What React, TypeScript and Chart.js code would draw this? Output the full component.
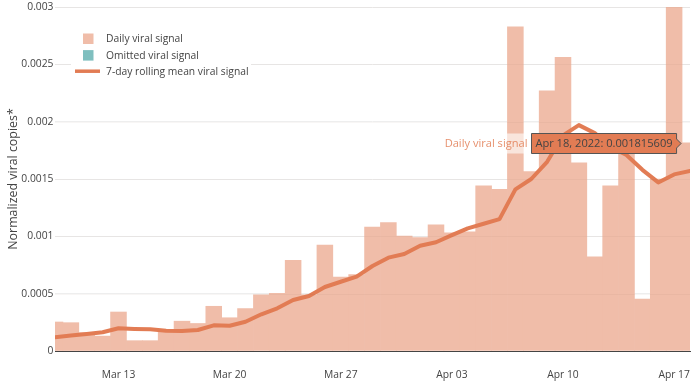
import React, { useEffect, useRef } from 'react';
import { Chart, registerables } from 'chart.js';

Chart.register(...registerables);

const categories = [
  'Mar 09', 'Mar 10', 'Mar 11', 'Mar 12', 'Mar 13', 'Mar 14', 'Mar 15', 'Mar 16', 'Mar 17', 'Mar 18',
  'Mar 19', 'Mar 20', 'Mar 21', 'Mar 22', 'Mar 23', 'Mar 24', 'Mar 25', 'Mar 26', 'Mar 27', 'Mar 28',
  'Mar 29', 'Mar 30', 'Mar 31', 'Apr 01', 'Apr 02', 'Apr 03', 'Apr 04', 'Apr 05', 'Apr 06', 'Apr 07',
  'Apr 08', 'Apr 09', 'Apr 10', 'Apr 11', 'Apr 12', 'Apr 13', 'Apr 14', 'Apr 15', 'Apr 16', 'Apr 17',
  'Apr 18',
];

const dailySignal = [
  0.000253, 0.000247, 0.00016, 0.00013, 0.00034, 0.00009, 0.00009, 0.00018, 0.00026, 0.00024,
  0.00039, 0.00029, 0.00037, 0.00049, 0.000503, 0.00079, 0.00049, 0.000924, 0.000645, 0.000666,
  0.00108, 0.00112, 0.001003, 0.00099, 0.0011, 0.00103, 0.00104, 0.00144, 0.00141, 0.002828,
  0.001564, 0.00227, 0.00256, 0.00164, 0.000822, 0.00144, 0.00173, 0.000453, 0.0015, 0.003,
  0.001815609,
];

const omittedSignal: number[] = [];

const rollingMean = [
  0.000119, 0.000135, 0.000148, 0.000163, 0.000198, 0.000192, 0.000189, 0.000177, 0.000175, 0.000183,
  0.000224, 0.00022, 0.000255, 0.00032, 0.000372, 0.000445, 0.00048, 0.000558, 0.000604, 0.000648,
  0.000741, 0.000814, 0.000846, 0.000918, 0.000948, 0.00101, 0.00107, 0.00111, 0.00115, 0.00141,
  0.0015, 0.00165, 0.00188, 0.00197, 0.0019, 0.00178, 0.00171, 0.00158, 0.00147, 0.00154,
  0.00157,
];

const tickLabels = ['Mar 13', 'Mar 20', 'Mar 27', 'Apr 03', 'Apr 10', 'Apr 17'];

const hoverIndex = 40;
const hoverDate = 'Apr 18, 2022';

const FONT = "'Open Sans', sans-serif";
const TEXT = '#444';
const ORANGE = 'rgb(226,124,84)';
const BAR_FILL = '#f0bda9';
const TEAL_FILL = 'rgba(0,128,128,0.5)';

const overlayPlugin = {
  id: 'overlay',
  afterDatasetsDraw(chart: any) {
    // faint grid lines showing through the translucent-looking bars
    const ctx: CanvasRenderingContext2D = chart.ctx;
    const area = chart.chartArea;
    const ys = chart.scales.y;
    ctx.save();
    ctx.beginPath();
    ctx.rect(area.left, area.top, area.right - area.left, area.bottom - area.top);
    ctx.clip();
    ctx.strokeStyle = 'rgba(120,70,50,0.05)';
    ctx.lineWidth = 1;
    ys.ticks.forEach((t: any) => {
      if (t.value === 0) return;
      const y = Math.round(ys.getPixelForValue(t.value)) + 0.5;
      ctx.beginPath();
      ctx.moveTo(area.left, y);
      ctx.lineTo(area.right, y);
      ctx.stroke();
    });
    ctx.restore();
  },
  afterDraw(chart: any) {
    const ctx: CanvasRenderingContext2D = chart.ctx;
    const area = chart.chartArea;
    ctx.save();

    // Legend (top-left inside plot)
    const lx = area.left + 16;
    const ly = area.top + 21;
    ctx.fillStyle = '#fff';
    ctx.fillRect(lx, ly, 180, 54);
    const items = [
      { ds: chart.data.datasets[1], kind: 'box', color: BAR_FILL },
      { ds: chart.data.datasets[2], kind: 'box', color: TEAL_FILL },
      { ds: chart.data.datasets[0], kind: 'line', color: ORANGE },
    ];
    ctx.font = `10.3px ${FONT}`;
    ctx.textBaseline = 'middle';
    ctx.textAlign = 'left';
    items.forEach((it, i) => {
      const cy = ly + 10.5 + i * 16.6;
      if (it.kind === 'box') {
        ctx.fillStyle = it.color;
        ctx.fillRect(lx + 12, cy - 5, 10.5, 10.5);
      } else {
        ctx.strokeStyle = it.color;
        ctx.lineWidth = 3.5;
        ctx.beginPath();
        ctx.moveTo(lx + 4, cy - 0.5);
        ctx.lineTo(lx + 29, cy - 0.5);
        ctx.stroke();
      }
      ctx.fillStyle = TEXT;
      ctx.fillText(it.ds.label, lx + 35, cy + 0.5);
    });

    // Hover label on the last daily bar
    const meta = chart.getDatasetMeta(1);
    const el: any = meta.data[hoverIndex];
    if (el) {
      const barLeft = el.x - el.width / 2;
      const y = Math.round(el.y) + 0.5;
      const tipX = barLeft - 1;
      const bx1 = tipX - 4.5;
      ctx.font = `11.1px ${FONT}`;
      const text = `${hoverDate}: ${dailySignal[hoverIndex]}`;
      const tw = ctx.measureText(text).width;
      const textRight = bx1 - 4;
      const bx0 = Math.round(textRight - tw - 4) + 0.5;
      // name
      const name = chart.data.datasets[1].label;
      const nw = ctx.measureText(name).width;
      const nameRight = bx0 - 4;
      ctx.fillStyle = 'rgba(255,255,255,0.6)';
      ctx.fillRect(nameRight - nw - 3, y - 10, nw + 7, 20);
      ctx.fillStyle = 'rgba(226,124,84,0.85)';
      ctx.textAlign = 'right';
      ctx.textBaseline = 'middle';
      ctx.fillText(name, nameRight, y + 0.5);
      // box
      ctx.beginPath();
      ctx.moveTo(bx0, y - 10);
      ctx.lineTo(bx1, y - 10);
      ctx.lineTo(bx1, y - 4.5);
      ctx.lineTo(tipX, y);
      ctx.lineTo(bx1, y + 4.5);
      ctx.lineTo(bx1, y + 10);
      ctx.lineTo(bx0, y + 10);
      ctx.closePath();
      ctx.fillStyle = ORANGE;
      ctx.fill();
      ctx.strokeStyle = '#555';
      ctx.lineWidth = 1;
      ctx.stroke();
      ctx.fillStyle = TEXT;
      ctx.textAlign = 'right';
      ctx.fillText(text, textRight, y + 0.5);
    }
    ctx.restore();
  },
};

export default function App() {
  const canvasRef = useRef<HTMLCanvasElement | null>(null);

  useEffect(() => {
    const canvas = canvasRef.current;
    if (!canvas) return;
    const chart = new Chart(canvas, {
      type: 'bar',
      data: {
        labels: categories,
        datasets: [
          {
            type: 'line',
            label: '7-day rolling mean viral signal',
            data: rollingMean,
            borderColor: ORANGE,
            backgroundColor: ORANGE,
            borderWidth: 4,
            pointRadius: 0,
            tension: 0,
            fill: false,
            clip: 0,
            order: 0,
            borderJoinStyle: 'round',
            borderCapStyle: 'round',
          } as any,
          {
            type: 'bar',
            label: 'Daily viral signal',
            data: dailySignal,
            backgroundColor: BAR_FILL,
            borderWidth: 0,
            categoryPercentage: 1,
            barPercentage: 1,
            grouped: false,
            clip: 0,
            order: 1,
          } as any,
          {
            type: 'bar',
            label: 'Omitted viral signal',
            data: omittedSignal,
            backgroundColor: TEAL_FILL,
            borderWidth: 0,
            categoryPercentage: 1,
            barPercentage: 1,
            grouped: false,
            clip: 0,
            order: 2,
          } as any,
        ],
      },
      options: {
        responsive: false,
        animation: false,
        layout: { padding: { top: 7, right: 4, left: 0, bottom: 0 } },
        plugins: {
          legend: { display: false },
          tooltip: { enabled: false },
        },
        scales: {
          x: {
            type: 'category',
            offset: false,
            grid: { display: false, drawTicks: false },
            border: { display: true, color: '#444', width: 1 },
            ticks: {
              autoSkip: false,
              maxRotation: 0,
              minRotation: 0,
              padding: 18,
              color: TEXT,
              font: { family: FONT, size: 10.3 },
              callback: (_v: any, idx: number) => {
                const l = categories[idx];
                return tickLabels.includes(l) ? l : '';
              },
            },
            afterFit: (s: any) => {
              s.height = 32;
              s.paddingLeft = 0;
              s.paddingRight = 0;
            },
          },
          y: {
            min: 0,
            max: 0.003,
            ticks: {
              stepSize: 0.0005,
              padding: 1.5,
              color: TEXT,
              font: { family: FONT, size: 10.3 },
              callback: (v: any) => String(+Number(v).toFixed(6)),
            },
            grid: { color: '#eee', drawTicks: false, lineWidth: 1 },
            border: { display: false },
            title: {
              display: true,
              text: 'Normalized viral copies*',
              color: TEXT,
              font: { family: FONT, size: 12.4 },
              padding: { top: 6, bottom: 0 },
            },
            afterFit: (s: any) => {
              s.width = 55;
              s.paddingTop = 0;
              s.paddingBottom = 0;
            },
          },
        },
      } as any,
      plugins: [overlayPlugin],
    });
    return () => chart.destroy();
  }, []);

  return (
    <div style={{ position: 'fixed', left: 0, top: 0, width: 694, height: 383, background: '#fff' }}>
      <canvas ref={canvasRef} width={694} height={383} style={{ display: 'block' }} />
    </div>
  );
}
